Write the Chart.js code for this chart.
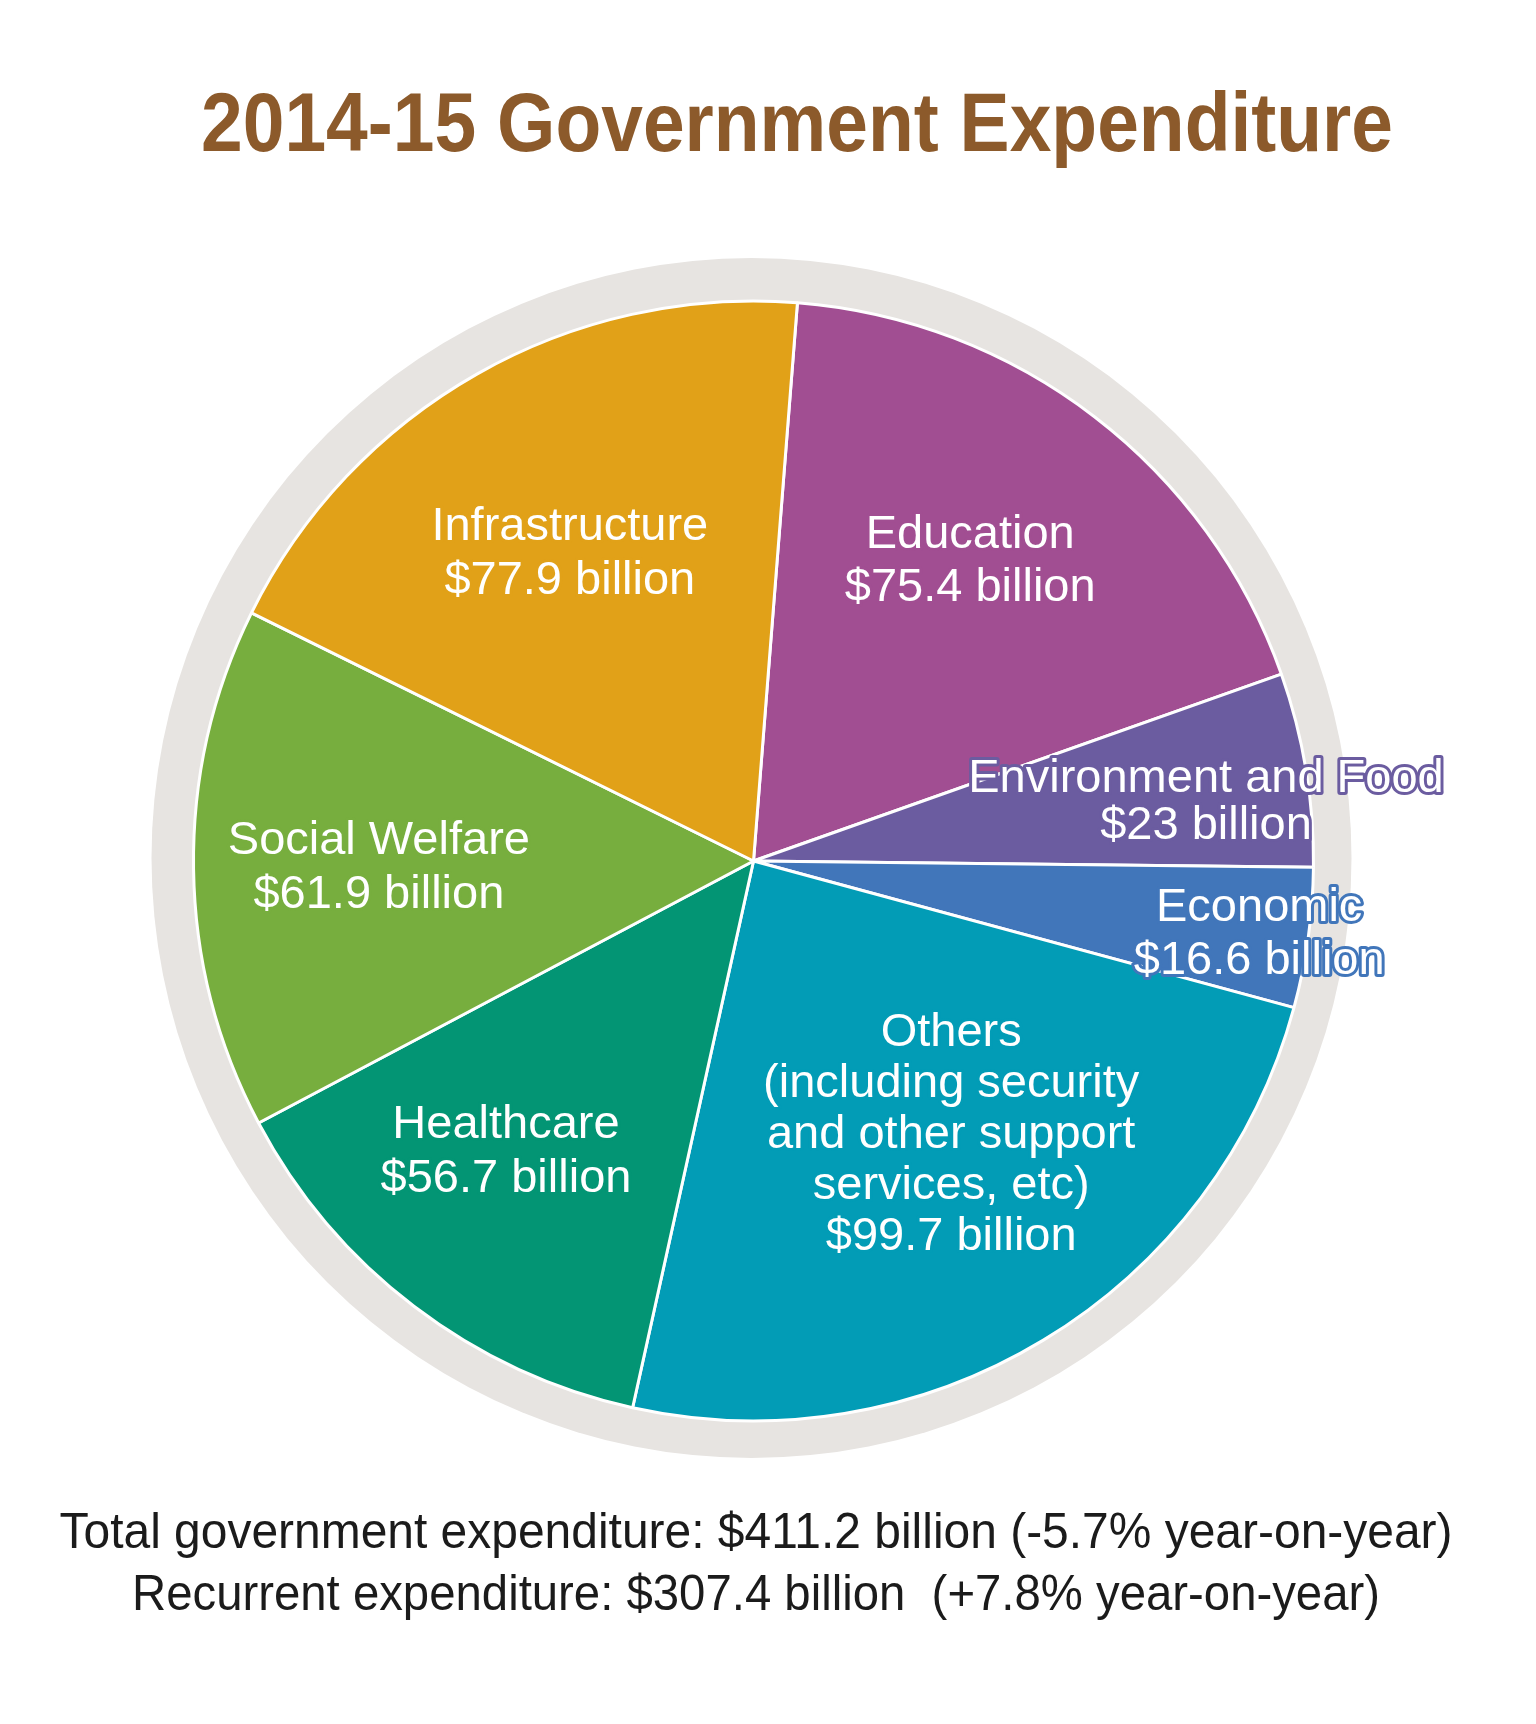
<!DOCTYPE html>
<html><head><meta charset="utf-8">
<script src="https://cdn.jsdelivr.net/npm/chart.js@4.4.1/dist/chart.umd.min.js"></script>
<style>html,body{margin:0;padding:0;background:#fff;}canvas{display:block;}</style>
</head><body>
<canvas id="c" width="1536" height="1724"></canvas>
<script>
// ---- data ----
const categories = ['Education', 'Environment and Food', 'Economic', 'Others', 'Healthcare', 'Social Welfare', 'Infrastructure'];
const values = [75.4, 23, 16.6, 99.7, 56.7, 61.9, 77.9];
const categoryNotes = [[], [], [], ['(including security', 'and other support', 'services, etc)'], [], [], []];
const sliceColors = ['#A14E92', '#6B5CA0', '#4176BA', '#029CB6', '#039574', '#77AE3E', '#E1A118'];
const titleText = '2014-15 Government Expenditure';
const footerLines = ['Total government expenditure: $411.2 billion (-5.7% year-on-year)',
                     'Recurrent expenditure: $307.4 billion  (+7.8% year-on-year)'];

// ---- layout (label centres as fraction of radius from pie centre, line height px) ----
const labelLayout = [
  [0.387, -0.534, 53],
  [0.808, -0.104, 47],
  [0.903, 0.131, 53],
  [0.353, 0.490, 51],
  [-0.442, 0.520, 54],
  [-0.669, 0.0125, 54],
  [-0.328, -0.548, 54]
];
const FONT = '"Liberation Sans", Arial, Helvetica, sans-serif';

const ringPlugin = {
  id: 'ring',
  beforeDatasetsDraw(chart) {
    const arc = chart.getDatasetMeta(0).data[0];
    if (!arc) return;
    const ctx = chart.ctx;
    ctx.save();
    ctx.beginPath();
    ctx.arc(arc.x - 2, arc.y - 3, arc.outerRadius + 40, 0, Math.PI * 2);
    ctx.fillStyle = '#E7E4E1';
    ctx.fill();
    ctx.restore();
  }
};

const textPlugin = {
  id: 'texts',
  afterDatasetsDraw(chart) {
    const ctx = chart.ctx;
    const arcs = chart.getDatasetMeta(0).data;
    const cx = arcs[0].x, cy = arcs[0].y, R = arcs[0].outerRadius;
    ctx.save();
    ctx.textAlign = 'center';
    ctx.textBaseline = 'middle';
    ctx.font = '47px ' + FONT;
    ctx.lineJoin = 'round';
    categories.forEach((cat, i) => {
      const lines = [cat, ...categoryNotes[i], '$' + values[i] + ' billion'];
      const [fx, fy, lh] = labelLayout[i];
      const x = cx + fx * R;
      const y0 = cy + fy * R - (lines.length - 1) * lh / 2;
      lines.forEach((t, k) => {
        const y = y0 + k * lh;
        ctx.lineWidth = 6;
        ctx.strokeStyle = sliceColors[i];
        ctx.strokeText(t, x, y);
        ctx.fillStyle = '#ffffff';
        ctx.fillText(t, x, y);
      });
    });
    ctx.restore();

    // title
    ctx.save();
    ctx.font = 'bold 84px ' + FONT;
    ctx.textAlign = 'center';
    ctx.textBaseline = 'alphabetic';
    ctx.fillStyle = '#8C5A2B';
    let w = ctx.measureText(titleText).width;
    ctx.translate(797, 151);
    ctx.scale(1192 / w, 1);
    ctx.fillText(titleText, 0, 0);
    ctx.restore();

    // footer
    ctx.save();
    ctx.font = '50px ' + FONT;
    ctx.textAlign = 'center';
    ctx.textBaseline = 'alphabetic';
    ctx.fillStyle = '#1b1b1b';
    const targets = [1393, 1248];
    [1548, 1610].forEach((by, k) => {
      const fw = ctx.measureText(footerLines[k]).width;
      ctx.save();
      ctx.translate(756, by);
      ctx.scale(targets[k] / fw, 1);
      ctx.fillText(footerLines[k], 0, 0);
      ctx.restore();
    });
    ctx.restore();
  }
};

new Chart(document.getElementById('c'), {
  type: 'pie',
  data: {
    labels: categories,
    datasets: [{
      data: values,
      backgroundColor: sliceColors,
      borderColor: '#ffffff',
      borderWidth: 3
    }]
  },
  options: {
    responsive: false,
    devicePixelRatio: 1,
    animation: false,
    rotation: 4.5,
    layout: { padding: { left: 192, right: 221, top: 299.5, bottom: 301.5 } },
    plugins: { legend: { display: false }, tooltip: { enabled: false }, title: { display: false } }
  },
  plugins: [ringPlugin, textPlugin]
});
</script>
</body></html>
